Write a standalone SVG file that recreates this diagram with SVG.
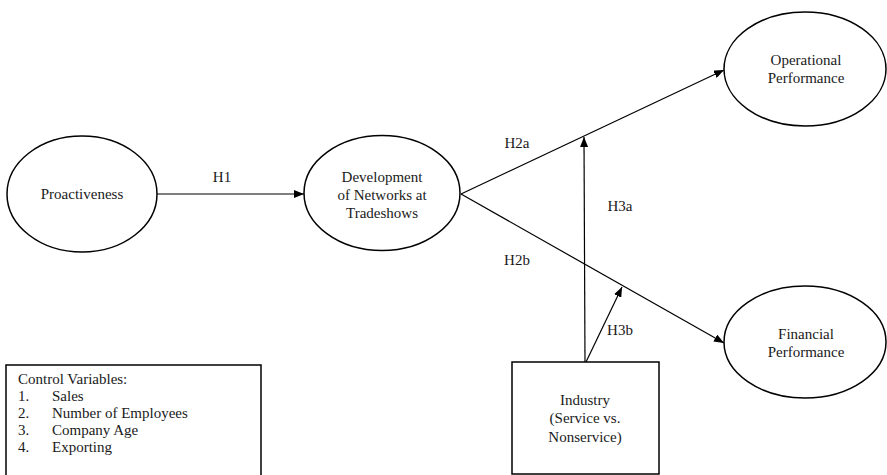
<svg xmlns="http://www.w3.org/2000/svg" width="887" height="475" viewBox="0 0 887 475">
<style>
.shape{fill:#fff;stroke:#000;stroke-width:1.5}
.t{font-family:'Liberation Serif','Tinos','DejaVu Serif','Noto Serif',serif;font-size:15px;fill:#1a1a1a}
.m{text-anchor:middle}
.c line{stroke:#000;stroke-width:1.2}
</style>
<defs>
<marker id="ah" viewBox="0 0 10 8" refX="10" refY="4" markerWidth="10" markerHeight="8" markerUnits="userSpaceOnUse" orient="auto">
<path d="M0,0 L10,4 L0,8 Z" fill="#000"/>
</marker>
</defs>
<rect width="887" height="475" fill="#fff"/>
<g class="c" id="connectors">
<line x1="157" y1="194" x2="304" y2="194" marker-end="url(#ah)"/>
<line x1="461" y1="194" x2="724" y2="70" marker-end="url(#ah)"/>
<line x1="461" y1="194" x2="724" y2="343" marker-end="url(#ah)"/>
<line x1="585" y1="362" x2="584" y2="137" marker-end="url(#ah)"/>
<line x1="586" y1="362" x2="622" y2="287" marker-end="url(#ah)"/>
</g>
<g id="labels" font-family="Liberation Serif, serif">
<text class="t m" x="222" y="182">H1</text>
<text class="t m" x="517" y="148">H2a</text>
<text class="t m" x="620" y="211">H3a</text>
<text class="t m" x="517" y="265">H2b</text>
<text class="t m" x="620" y="335">H3b</text>
</g>
<g id="proactiveness">
<ellipse class="shape" cx="82" cy="194" rx="75" ry="58"/>
<text class="t m" x="82" y="199">Proactiveness</text>
</g>
<g id="development">
<ellipse class="shape" cx="382" cy="193" rx="78" ry="57.5"/>
<text class="t m" x="382" y="182">Development</text>
<text class="t m" x="382" y="200">of Networks at</text>
<text class="t m" x="382" y="218">Tradeshows</text>
</g>
<g id="operational">
<ellipse class="shape" cx="805" cy="69" rx="81" ry="57"/>
<text class="t m" x="806" y="65">Operational</text>
<text class="t m" x="806" y="83">Performance</text>
</g>
<g id="financial">
<ellipse class="shape" cx="805" cy="342" rx="81" ry="56"/>
<text class="t m" x="806" y="339">Financial</text>
<text class="t m" x="806" y="357">Performance</text>
</g>
<g id="industry">
<rect class="shape" x="512" y="362" width="147" height="112"/>
<text class="t m" x="585" y="405">Industry</text>
<text class="t m" x="585" y="423">(Service vs.</text>
<text class="t m" x="585" y="442">Nonservice)</text>
</g>
<g id="controls">
<rect class="shape" x="6" y="365" width="255" height="112"/>
<text class="t" x="18" y="384">Control Variables:</text>
<text class="t" x="18" y="401">1.</text><text class="t" x="52" y="401">Sales</text>
<text class="t" x="18" y="418">2.</text><text class="t" x="52" y="418">Number of Employees</text>
<text class="t" x="18" y="435">3.</text><text class="t" x="52" y="435">Company Age</text>
<text class="t" x="18" y="452">4.</text><text class="t" x="52" y="452">Exporting</text>
</g>
</svg>
